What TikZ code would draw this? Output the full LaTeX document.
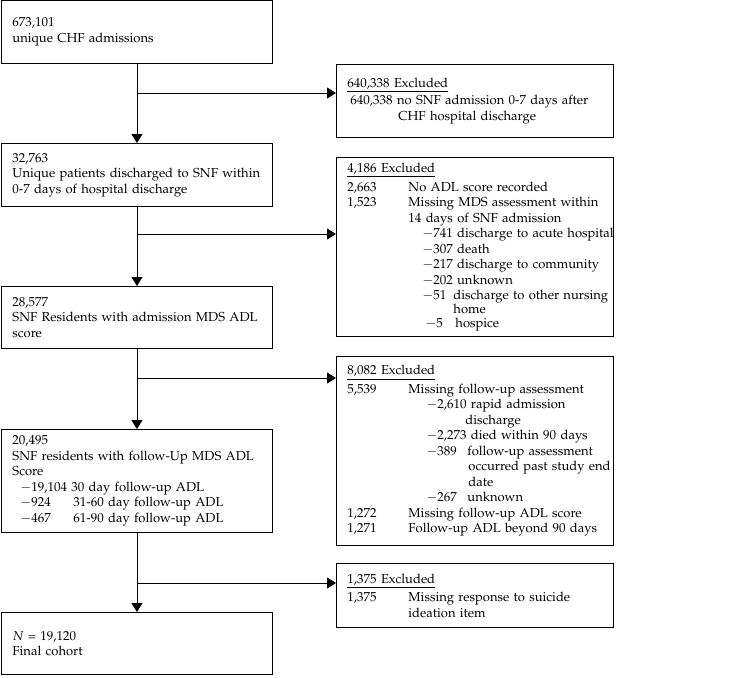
\documentclass[tikz,border=0pt]{standalone}
\usepackage[T1]{fontenc}
\usepackage{mathpazo}
\usetikzlibrary{arrows.meta,positioning,calc}

\newcommand{\boxfont}{\fontsize{13}{15.5}\selectfont}
% one exclusion reason: count, then text
\newcommand{\exitem}[2]{\mbox{\makebox[61pt][l]{#1}#2}}
% sub reason: indent, width of count, count, text
\newcommand{\exsub}[4]{\mbox{\hspace*{#1}\makebox[#2][l]{$-$#3}#4}}
\newcommand{\exmore}[2]{\mbox{\hspace*{#1}#2}}

\begin{document}
\begin{tikzpicture}[
	x=1pt, y=-1pt,
	>={Triangle[width=11pt,length=9pt]},
	flow/.style={->, line width=0.9pt},
	mainbox/.style={draw, line width=0.9pt, anchor=north west, minimum width=271pt,
		text width=249pt, inner xsep=11pt, inner ysep=2pt, align=left, font=\boxfont},
	exbox/.style={draw, line width=0.9pt, anchor=north west, minimum width=277pt,
		text width=255pt, inner xsep=11pt, inner ysep=2pt, align=left, font=\boxfont}
	]
	\useasboundingbox (0,0) rectangle (756,678);
	
	% cohort boxes
	\node[mainbox, minimum height=63pt] (adm) at (1,0) {673,101\\unique CHF admissions};
	\node[mainbox, minimum height=63pt] (snf) at (1,143)
	{32,763\\\mbox{Unique patients discharged to SNF within}\\0-7 days of hospital discharge};
	\node[mainbox, minimum height=62pt] (base) at (1,286)
	{28,577\\\mbox{SNF Residents with admission MDS ADL}\\score};
	\node[mainbox, minimum height=103pt] (follow) at (1,429)
	{20,495\\\mbox{SNF residents with follow-Up MDS ADL}\\Score\\
		\exmore{8pt}{$-$19,104 30 day follow-up ADL}\\
		\exsub{8pt}{53pt}{924}{31-60 day follow-up ADL}\\
		\exsub{8pt}{53pt}{467}{61-90 day follow-up ADL}};
	\node[mainbox, minimum height=62pt] (final) at (1,612) {$N$ = 19,120\\Final cohort};
	
	% exclusion boxes
	\node[exbox, minimum height=73pt] (ex1) at (336,64)
	{\underline{640,338 Excluded}\\[2pt]
		\exmore{3pt}{640,338 no SNF admission 0-7 days after}\\
		\exmore{51pt}{CHF hospital discharge}};
	\node[exbox, minimum height=179pt] (ex2) at (336,157)
	{\underline{4,186 Excluded}\\[3pt]
		\exitem{2,663}{No ADL score recorded}\\
		\exitem{1,523}{Missing MDS assessment within}\\
		\exmore{61pt}{14 days of SNF admission}\\
		\exmore{75pt}{$-$741 discharge to acute hospital}\\
		\exmore{75pt}{$-$307 death}\\
		\exmore{75pt}{$-$217 discharge to community}\\
		\exmore{75pt}{$-$202 unknown}\\
		\exsub{75pt}{31pt}{51}{discharge to other nursing}\\[-1.5pt]
		\exmore{106pt}{home}\\[-2pt]
		\exsub{78pt}{30pt}{5}{hospice}};
	\node[exbox, minimum height=189pt] (ex3) at (336,356)
	{\underline{8,082 Excluded}\\[3pt]
		\exitem{5,539}{Missing follow-up assessment}\\
		\exmore{79pt}{$-$2,610 rapid admission}\\
		\exmore{118pt}{discharge}\\
		\exmore{79pt}{$-$2,273 died within 90 days}\\
		\exsub{79pt}{41pt}{389}{follow-up assessment}\\
		\exmore{121pt}{occurred past study end}\\
		\exmore{121pt}{date}\\
		\exsub{79pt}{41pt}{267}{unknown}\\
		\exitem{1,272}{Missing follow-up ADL score}\\
		\exitem{1,271}{Follow-up ADL beyond 90 days}};
	\node[exbox, minimum height=64pt] (ex4) at (336,563)
	{\underline{1,375 Excluded}\\[3pt]
		\exitem{1,375}{Missing response to suicide}\\
		\exmore{61pt}{ideation item}};
	
	% branch points on the main line
	\coordinate (b1) at (adm.south |- 0,93);
	\coordinate (b2) at (snf.south |- 0,234);
	\coordinate (b3) at (base.south |- 0,378);
	\coordinate (b4) at (follow.south |- 0,583);
	
	\draw[flow] (adm) -- (snf);
	\draw[flow] (snf) -- (base);
	\draw[flow] (base) -- (follow);
	\draw[flow] (follow) -- (final);
	
	\draw[flow] (b1) -- (b1 -| ex1.west);
	\draw[flow] (b2) -- (b2 -| ex2.west);
	\draw[flow] (b3) -- (b3 -| ex3.west);
	\draw[flow] (b4) -- (b4 -| ex4.west);
\end{tikzpicture}
\end{document}
